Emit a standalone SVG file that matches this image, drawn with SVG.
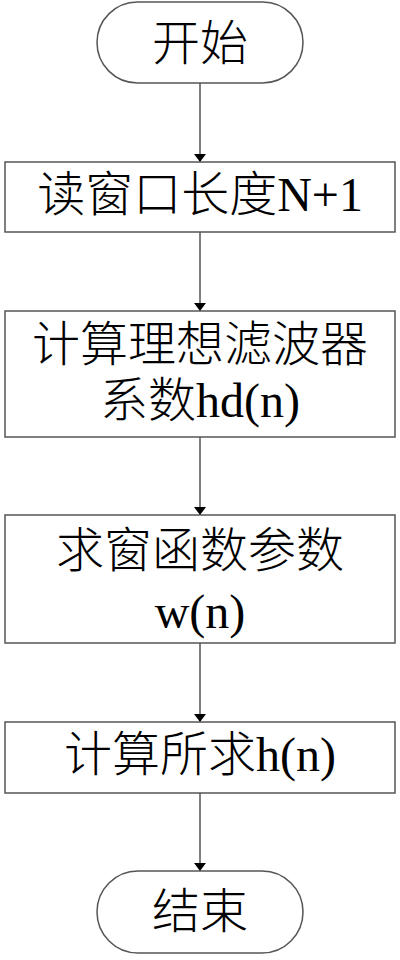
<svg xmlns="http://www.w3.org/2000/svg" width="400" height="960" viewBox="0 0 400 960">
<style>
.n{fill:#fff;stroke:#555;stroke-width:1.5}
.t{font-family:"Liberation Serif","Noto Sans CJK SC",serif;font-size:48px;font-weight:300;fill:#000;text-anchor:middle}
.l{font-weight:400}
.c{stroke:#555;stroke-width:1.5;fill:none;marker-end:url(#a)}
</style>
<defs>
<marker id="a" markerWidth="8" markerHeight="12" refX="8" refY="6" orient="auto" markerUnits="userSpaceOnUse" viewBox="0 0 8 12">
<path d="M0,0 L8,6 L0,12 Z" fill="#000"/>
</marker>
</defs>
<rect width="400" height="960" fill="#fff"/>
<g id="connectors">
<line class="c" x1="200" y1="83" x2="200" y2="162"/>
<line class="c" x1="200" y1="232" x2="200" y2="311"/>
<line class="c" x1="200" y1="437" x2="200" y2="515"/>
<line class="c" x1="200" y1="643" x2="200" y2="722"/>
<line class="c" x1="200" y1="793" x2="200" y2="871"/>
</g>
<g id="start">
<rect class="n" x="97" y="2" width="206" height="81" rx="40.5"/>
<text class="t" x="200" y="60">开始</text>
</g>
<g id="read">
<rect class="n" x="5" y="162" width="390" height="70"/>
<text class="t" x="200" y="211">读窗口长度<tspan class="l">N+1</tspan></text>
</g>
<g id="ideal">
<rect class="n" x="5" y="311" width="390" height="126"/>
<text class="t" x="200" y="361">计算理想滤波器</text>
<text class="t" x="200" y="417">系数<tspan class="l">hd(n)</tspan></text>
</g>
<g id="window">
<rect class="n" x="5" y="515" width="390" height="128"/>
<text class="t" x="200" y="567">求窗函数参数</text>
<text class="t l" x="200" y="628">w(n)</text>
</g>
<g id="compute">
<rect class="n" x="5" y="722" width="390" height="71"/>
<text class="t" x="200" y="771">计算所求<tspan class="l">h(n)</tspan></text>
</g>
<g id="end">
<rect class="n" x="97" y="871" width="206" height="82" rx="41"/>
<text class="t" x="200" y="928">结束</text>
</g>
</svg>
